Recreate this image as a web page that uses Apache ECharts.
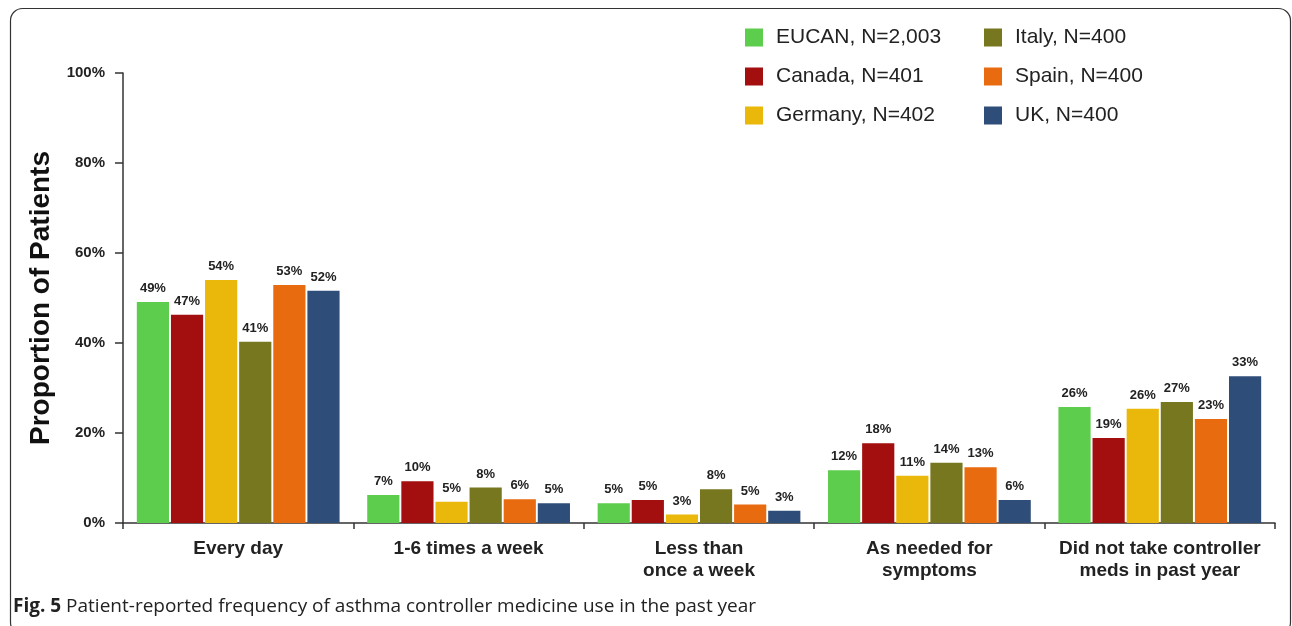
<!DOCTYPE html>
<html>
<head>
<meta charset="utf-8">
<script src="https://cdn.jsdelivr.net/npm/echarts@6/dist/echarts.min.js"></script>
<style>
html,body{margin:0;padding:0;background:#fff;}
#chart{width:1292px;height:626px;}
</style>
</head>
<body>
<div id="chart"></div>
<script>
var categories = ["Every day", "1-6 times a week", "Less than\nonce a week", "As needed for\nsymptoms", "Did not take controller\nmeds in past year"];
var seriesNames = ["EUCAN, N=2,003", "Canada, N=401", "Germany, N=402", "Italy, N=400", "Spain, N=400", "UK, N=400"];
var eucan   = [49.1, 6.2, 4.4, 11.7, 25.8];
var canada  = [46.3, 9.3, 5.1, 17.7, 18.9];
var germany = [54.0, 4.7, 1.9, 10.5, 25.4];
var italy   = [40.3, 7.9, 7.5, 13.4, 26.9];
var spain   = [52.9, 5.3, 4.1, 12.4, 23.1];
var uk      = [51.6, 4.4, 2.7, 5.1, 32.6];
var eucanLabels   = ["49%", "7%", "5%", "12%", "26%"];
var canadaLabels  = ["47%", "10%", "5%", "18%", "19%"];
var germanyLabels = ["54%", "5%", "3%", "11%", "26%"];
var italyLabels   = ["41%", "8%", "8%", "14%", "27%"];
var spainLabels   = ["53%", "6%", "5%", "13%", "23%"];
var ukLabels      = ["52%", "5%", "3%", "6%", "33%"];
var yTicks = [0, 20, 40, 60, 80, 100];
var colors = ["#5ccd4c", "#a30e0e", "#e9b80b", "#76771e", "#e86b10", "#2e4d78"];

var values = [eucan, canada, germany, italy, spain, uk];
var labels = [eucanLabels, canadaLabels, germanyLabels, italyLabels, spainLabels, ukLabels];
var FONT = "Liberation Sans, Arial, sans-serif";

var chart = echarts.init(document.getElementById('chart'), null, {renderer: 'canvas'});

var series = seriesNames.map(function (name, i) {
  return {
    name: name,
    type: 'bar',
    data: values[i],
    barGap: '6%',
    barCategoryGap: '12%',
    itemStyle: {color: colors[i]},
    label: {
      show: true,
      position: 'top',
      distance: 7,
      fontFamily: FONT,
      fontWeight: 'bold',
      fontSize: 13,
      color: '#222',
      formatter: function (p) { return labels[p.seriesIndex][p.dataIndex]; }
    }
  };
});

var legendCommon = {
  orient: 'vertical',
  icon: 'rect',
  itemWidth: 18,
  itemHeight: 18,
  itemGap: 18,
  padding: 0,
  selectedMode: false,
  textStyle: {fontFamily: FONT, fontSize: 21, color: '#222', padding: [0, 0, 0, 8]}
};

chart.setOption({
  animation: false,
  backgroundColor: '#fff',
  color: colors,
  grid: {left: 123, right: 17, top: 73, bottom: 103},
  legend: [
    Object.assign({}, legendCommon, {left: 745, top: 27, data: seriesNames.slice(0, 3)}),
    Object.assign({}, legendCommon, {left: 984, top: 27, data: seriesNames.slice(3, 6)})
  ],
  xAxis: {
    type: 'category',
    data: categories,
    axisLine: {lineStyle: {color: '#333', width: 1.5}},
    axisTick: {show: true, length: 6, lineStyle: {color: '#333', width: 1.5}},
    axisLabel: {
      interval: 0,
      fontFamily: FONT,
      fontWeight: 'bold',
      fontSize: 19,
      color: '#222',
      margin: 15,
      lineHeight: 22
    }
  },
  yAxis: {
    type: 'value',
    min: yTicks[0],
    max: yTicks[yTicks.length - 1],
    interval: 20,
    name: 'Proportion of Patients',
    nameLocation: 'middle',
    nameRotate: 90,
    nameGap: 68,
    nameTextStyle: {fontFamily: FONT, fontWeight: 'bold', fontSize: 28, color: '#111'},
    axisLine: {show: true, lineStyle: {color: '#333', width: 1.5}},
    axisTick: {show: true, length: 8, lineStyle: {color: '#333', width: 1.5}},
    splitLine: {show: false},
    axisLabel: {
      fontFamily: FONT,
      fontWeight: 'bold',
      fontSize: 15,
      color: '#222',
      margin: 18,
      formatter: '{value}%'
    }
  },
  series: series,
  graphic: [
    {
      type: 'rect',
      shape: {x: 10.5, y: 8.5, width: 1280, height: 626, r: 12},
      style: {fill: 'none', stroke: '#333', lineWidth: 1.2},
      silent: true,
      z: 100
    },
    {
      type: 'text',
      left: 13,
      top: 597,
      style: {
        text: '{b|Fig. 5} Patient-reported frequency of asthma controller medicine use in the past year',
        rich: {
          b: {fontFamily: 'Open Sans, sans-serif', fontWeight: 'bold', fontSize: 19, fill: '#222'}
        },
        font: '19px "Open Sans", sans-serif',
        fill: '#222'
      }
    }
  ]
});
</script>
</body>
</html>
